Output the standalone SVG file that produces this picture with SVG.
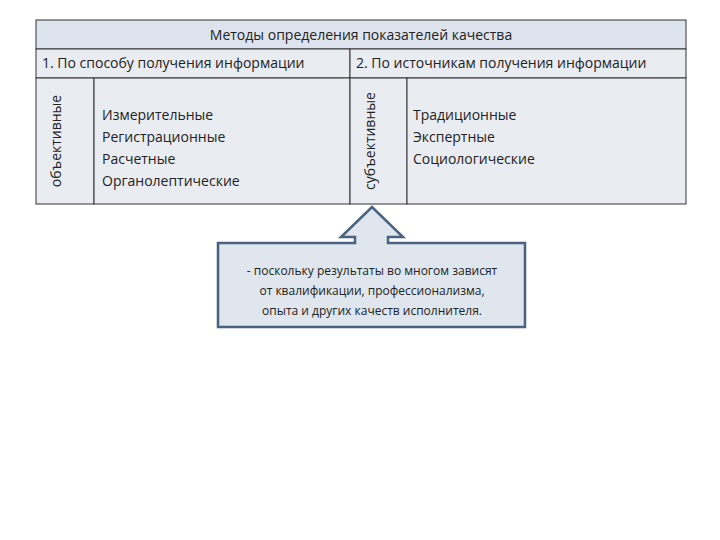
<svg xmlns="http://www.w3.org/2000/svg" width="720" height="540" viewBox="0 0 720 540">
<style>
text{font-family:"Open Sans","Liberation Sans",sans-serif;fill:#222}
.cell{fill:#e9edf2;stroke:#333;stroke-width:1}
.hd{font-size:14px}
.t{font-size:14px}
.s{font-size:12px}
</style>
<rect width="720" height="540" fill="#fff"/>
<g id="table">
<rect class="cell" x="36" y="20" width="650" height="29" fill="#dde4ee" style="fill:#dde4ee"/>
<rect class="cell" x="36" y="49" width="314" height="29"/>
<rect class="cell" x="350" y="49" width="336" height="29"/>
<rect class="cell" x="36" y="78" width="58" height="126"/>
<rect class="cell" x="94" y="78" width="256" height="126"/>
<rect class="cell" x="350" y="78" width="57" height="126"/>
<rect class="cell" x="407" y="78" width="279" height="126"/>
<text class="hd" x="361" y="40" text-anchor="middle">Методы определения показателей качества</text>
<text class="t" x="42" y="68" font-size="13">1. По способу получения информации</text>
<text class="t" x="356" y="68" font-size="13">2. По источникам получения информации</text>
<text class="t" transform="translate(61,141) rotate(-90)" text-anchor="middle">объективные</text>
<text class="t" transform="translate(375,141) rotate(-90)" text-anchor="middle">субъективные</text>
<text class="t" x="102" y="120">Измерительные</text>
<text class="t" x="102" y="142">Регистрационные</text>
<text class="t" x="102" y="164">Расчетные</text>
<text class="t" x="102" y="186">Органолептические</text>
<text class="t" x="413" y="120">Традиционные</text>
<text class="t" x="413" y="142">Экспертные</text>
<text class="t" x="413" y="164">Социологические</text>
</g>
<g id="callout">
<path d="M218,243 H355 V237 H341 L372,207 L403,237 H388 V243 H525 V327 H218 Z" fill="#dfe6ee" stroke="#4a6280" stroke-width="2.5"/>
<text class="s" x="372" y="275" text-anchor="middle">- поскольку результаты во многом зависят</text>
<text class="s" x="372" y="295" text-anchor="middle">от квалификации, профессионализма,</text>
<text class="s" x="372" y="315" text-anchor="middle">опыта и других качеств исполнителя.</text>
</g>
<g id="connectors"/>
</svg>
